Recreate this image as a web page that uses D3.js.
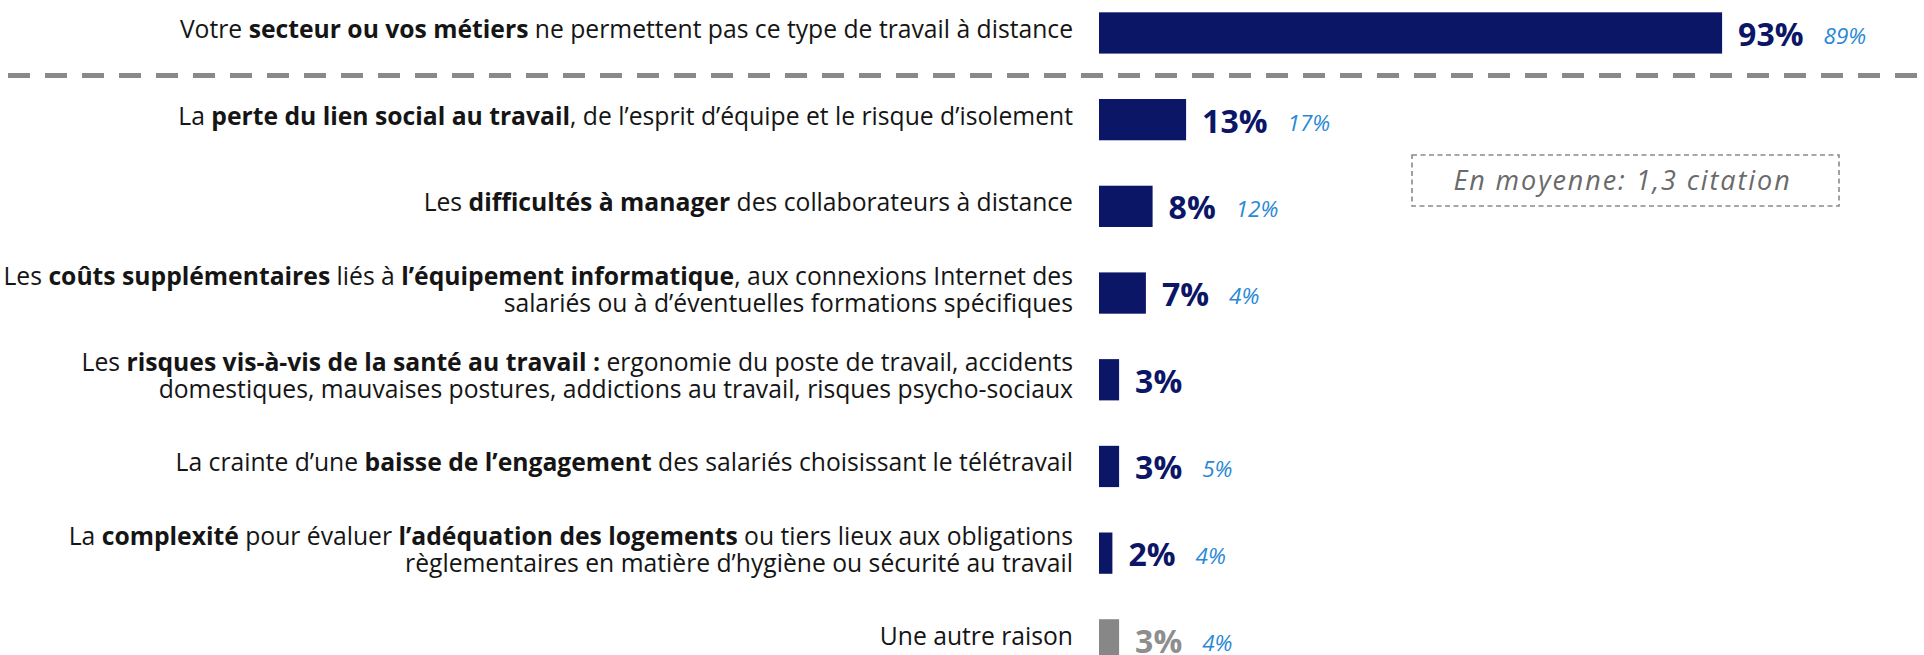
<!DOCTYPE html>
<html><head><meta charset="utf-8">
<script src="https://cdn.jsdelivr.net/npm/d3@7"></script>
<style>body{margin:0;background:#fff;} svg{display:block;}</style>
</head><body>
<svg id="chart" width="1924" height="655"></svg>
<script>
// ---- data ----
const categories = [
  "Votre **secteur ou vos métiers** ne permettent pas ce type de travail à distance",
  "La **perte du lien social au travail**, de l’esprit d’équipe et le risque d’isolement",
  "Les **difficultés à manager** des collaborateurs à distance",
  "Les **coûts supplémentaires** liés à **l’équipement informatique**, aux connexions Internet des|salariés ou à d’éventuelles formations spécifiques",
  "Les **risques vis-à-vis de la santé au travail :** ergonomie du poste de travail, accidents|domestiques, mauvaises postures, addictions au travail, risques psycho-sociaux",
  "La crainte d’une **baisse de l’engagement** des salariés choisissant le télétravail",
  "La **complexité** pour évaluer **l’adéquation des logements** ou tiers lieux aux obligations|règlementaires en matière d’hygiène ou sécurité au travail",
  "Une autre raison"
];
const valuesCurrent = [93, 13, 8, 7, 3, 3, 2, 3];
const valuesPrevious = [89, 17, 12, 4, null, 5, 4, 4];
const otherCategory = "Une autre raison";
const averageNote = "En moyenne: 1,3 citation";

// ---- layout ----
const W = 1924, H = 655;
const NAVY = "#0c1667", BLUE = "#2a88d4", GREY_BAR = "#878787", GREY_TXT = "#8e8e8e";
const svg = d3.select("#chart");
svg.append("rect").attr("width", W).attr("height", H).attr("fill", "#fff");

const idx = d3.range(categories.length);
const y = d3.scaleBand().domain(idx).range([-10.4, 683.2]).paddingInner(0.524).paddingOuter(0.262);
const x = d3.scaleLinear().domain([0, 100]).range([1099, 1769]);
const bw = y.bandwidth();
const isOther = i => categories[i] === otherCategory;

// bars
svg.append("g").selectAll("rect").data(idx).join("rect")
  .attr("x", x(0))
  .attr("y", i => y(i))
  .attr("width", i => x(valuesCurrent[i]) - x(0))
  .attr("height", bw)
  .attr("fill", i => isOther(i) ? GREY_BAR : NAVY);

// category labels
const LABEL_FONT = "'Open Sans', sans-serif";
const labelSize = 24.7, linePitch = 27;
const lg = svg.append("g").attr("font-family", LABEL_FONT).attr("font-size", labelSize).attr("fill", "#151515").attr("text-anchor", "end");
idx.forEach(i => {
  const lines = categories[i].split("|");
  const cy = y(i) + bw / 2;
  const n = lines.length;
  lines.forEach((line, k) => {
    const base = cy + 5 + (k - (n - 1) / 2) * linePitch;
    const t = lg.append("text").attr("x", x(0) - 26).attr("y", base);
    line.split("**").forEach((seg, j) => {
      if (!seg) return;
      t.append("tspan").attr("font-weight", j % 2 ? 700 : 400).text(seg);
    });
  });
});

// value labels
const vg = svg.append("g").attr("font-family", LABEL_FONT);
idx.forEach(i => {
  const cy = y(i) + bw / 2;
  const t = vg.append("text")
    .attr("x", x(valuesCurrent[i]) + 16)
    .attr("y", cy + 13)
    .attr("font-size", 32).attr("font-weight", 700)
    .attr("fill", isOther(i) ? GREY_TXT : NAVY)
    .text(valuesCurrent[i] + "%");
  if (valuesPrevious[i] != null) {
    const w = t.node().getComputedTextLength();
    vg.append("text")
      .attr("x", x(valuesCurrent[i]) + 16 + w + 20)
      .attr("y", cy + 11)
      .attr("font-size", 22.5).attr("font-style", "italic")
      .attr("fill", BLUE)
      .text(valuesPrevious[i] + "%");
  }
});

// dashed separator between first item and the rest
const sepY = (y(0) + bw + y(1)) / 2 - 0.8;
svg.append("line").attr("x1", 8).attr("x2", W).attr("y1", sepY).attr("y2", sepY)
  .attr("stroke", "#898989").attr("stroke-width", 5).attr("stroke-dasharray", "22,15");

// average note box
const box = {x: 1412, y: 155, w: 427, h: 51};
svg.append("rect").attr("x", box.x).attr("y", box.y).attr("width", box.w).attr("height", box.h)
  .attr("fill", "none").attr("stroke", "#8a8a8a").attr("stroke-width", 1.6).attr("stroke-dasharray", "5,3.5");
svg.append("text").attr("x", box.x + box.w / 2 - 3).attr("y", box.y + 35)
  .attr("text-anchor", "middle").attr("font-family", LABEL_FONT).attr("font-style", "italic")
  .attr("font-size", 27).attr("letter-spacing", 1.9).attr("fill", "#6a6a6a").text(averageNote);
</script>
</body></html>
